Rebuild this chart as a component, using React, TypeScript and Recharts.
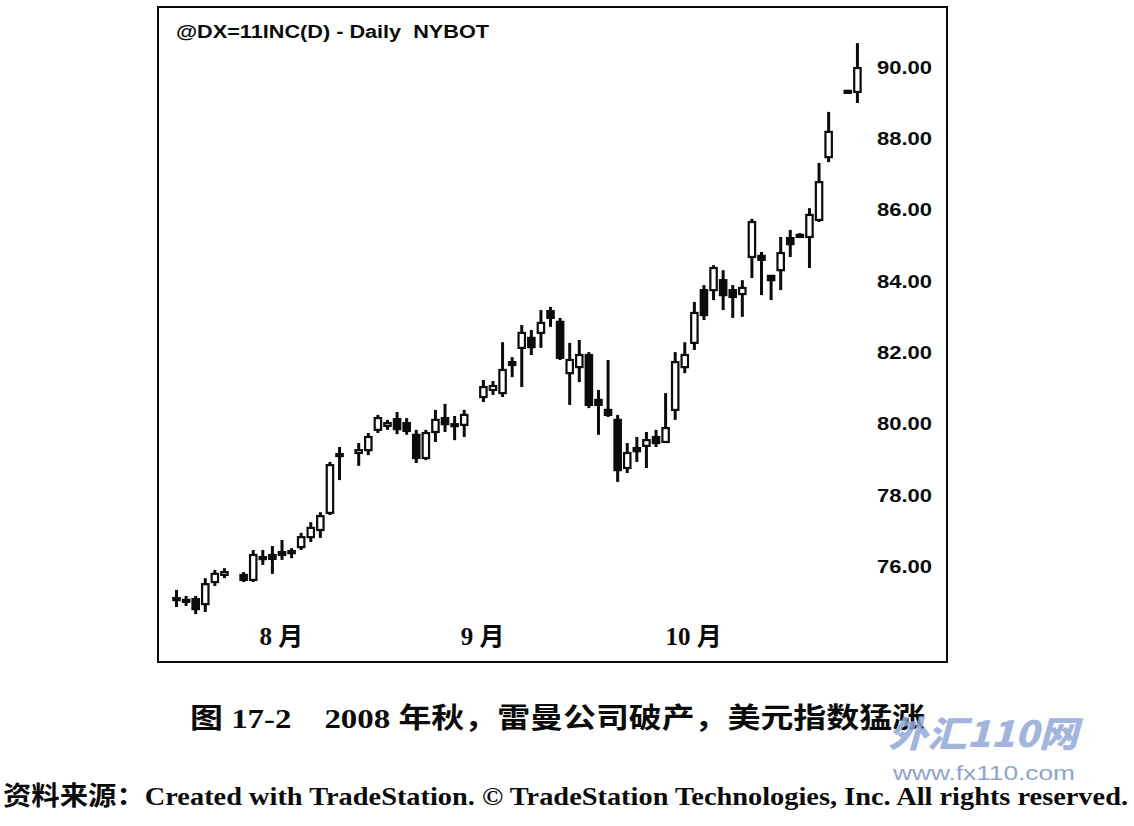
import React from "react";
import { ComposedChart, Bar, XAxis, YAxis } from "recharts";

// ─── Data (null = no bar that day) ───────────────────────────────────────────

const opens = [
  75.05, 75.05, 75.07, 74.93, 75.55, 75.75, null, 75.75, 75.61, 76.22,
  76.31, 76.39, 76.36, 76.53, 76.81, 77.01, 77.49, 79.14, null, 79.17,
  79.25, 79.82, 79.93, 80.12, 80.01, 79.68, 79.03, 79.76, 80.15, 79.98,
  79.96, null, 80.74, 80.94, 80.85, 81.72, 82.12, 82.4, 82.54, 83.15,
  82.85, 81.41, 81.58, 81.92, 80.66, 80.38, 80.1, 78.75, 79.31, 79.37,
  79.62, 79.48, 80.38, 81.58, 82.26, 83.74, 83.74, 84.02, 83.74, 83.63,
  84.67, 84.7, 84.14, 84.3, 85.2, 85.29, 85.23, 85.71, 87.47, null,
  89.3, 89.3,
];

const highs = [
  75.33, 75.16, 75.16, 75.66, 75.89, 75.94, null, 75.83, 76.45, 76.45,
  76.56, 76.73, 76.5, 76.93, 77.23, 77.51, 78.92, 79.34, null, 79.45,
  79.73, 80.24, 80.1, 80.32, 80.15, 79.82, 79.82, 80.38, 80.55, 80.21,
  80.38, null, 81.22, 81.19, 82.28, 81.86, 82.76, 82.62, 83.18, 83.27,
  82.96, 82.26, 82.34, 82.0, 80.94, 81.78, 80.24, 79.45, 79.62, 79.76,
  79.82, 80.85, 82.0, 82.28, 83.41, 83.88, 84.44, 84.3, 83.88, 84.02,
  85.74, 84.81, 84.16, 85.23, 85.43, 85.34, 86.04, 87.31, 88.74, null,
  89.36, 90.67,
];

const lows = [
  74.85, 74.88, 74.65, 74.71, 75.44, 75.66, null, 75.55, 75.55, 76.03,
  75.78, 76.17, 76.22, 76.45, 76.67, 76.79, 77.43, 78.41, null, 78.81,
  79.11, 79.73, 79.82, 79.7, 79.68, 78.89, 78.97, 79.48, 79.76, 79.53,
  79.62, null, 80.6, 80.8, 80.74, 81.3, 81.02, 81.92, 82.12, 82.71,
  81.78, 80.52, 81.16, 80.43, 79.68, 80.18, 78.36, 78.61, 78.92, 78.75,
  79.34, 79.45, 80.1, 81.41, 82.06, 82.9, 83.46, 83.18, 82.96, 82.99,
  84.08, 83.6, 83.46, 83.74, 84.67, 85.2, 84.36, 85.65, 87.33, null,
  89.27, 88.99,
];

const closes = [
  75.1, 75.02, 74.79, 75.49, 75.78, 75.83, null, 75.61, 76.31, 76.25,
  76.2, 76.31, 76.42, 76.81, 77.07, 77.4, 78.83, 79.09, null, 79.25,
  79.62, 80.15, 80.01, 79.84, 79.79, 79.03, 79.73, 80.1, 79.98, 79.93,
  80.24, null, 81.02, 81.05, 81.5, 81.64, 82.54, 82.14, 82.82, 82.96,
  81.84, 81.78, 81.92, 80.52, 80.52, 80.24, 78.69, 79.17, 79.22, 79.53,
  79.45, 79.87, 81.72, 81.92, 83.1, 83.04, 84.36, 83.6, 83.55, 83.8,
  85.65, 84.59, 84.02, 84.78, 85.03, 85.26, 85.85, 86.77, 88.18, null,
  89.33, 89.97,
];

// bar index where each month label sits
const monthTicks = [11, 32, 54];
const monthLabels = ["8 月", "9 月", "10 月"];

const priceTicks = [76, 78, 80, 82, 84, 86, 88, 90];

const rows = opens.map((o, i) => ({
  idx: i,
  open: o,
  high: highs[i],
  low: lows[i],
  close: closes[i],
}));

const INK = "#0b0b0b";

// ─── Marks ───────────────────────────────────────────────────────────────────

function Candle(props: any) {
  const { x, y, width, height, payload } = props;
  if (!payload || payload.open == null) return null;
  const { open, high, low, close } = payload;
  const span = high - low || 1;
  // value -> pixel inside the high/low range the bar was given
  const py = (v: number) => y + ((high - v) / span) * height;
  const cx = x + width / 2;
  const top = py(Math.max(open, close));
  const bot = py(Math.min(open, close));
  const up = close >= open;
  return (
    <g>
      <line x1={cx} x2={cx} y1={y} y2={y + height} stroke={INK} strokeWidth={3} />
      <rect
        x={cx - 3.2}
        y={top}
        width={6.4}
        height={Math.max(bot - top, 2)}
        fill={up ? "#fff" : INK}
        stroke={INK}
        strokeWidth={2.2}
      />
    </g>
  );
}

function PriceTick(props: any) {
  const { x, y, payload } = props;
  return (
    <text
      x={x}
      y={y}
      dy="0.36em"
      textAnchor="start"
      fontFamily="'Liberation Sans', Arial, sans-serif"
      fontWeight={700}
      fontSize={19}
      fill={INK}
      textLength={55}
      lengthAdjust="spacingAndGlyphs"
    >
      {Number(payload.value).toFixed(2)}
    </text>
  );
}

function MonthTick(props: any) {
  const { x, y, payload } = props;
  const k = monthTicks.indexOf(payload.value);
  if (k < 0) return null;
  return (
    <text
      x={x - 1}
      y={y - 16}
      dy="0.36em"
      textAnchor="middle"
      fontFamily="'Liberation Serif', 'Noto Sans CJK SC', serif"
      fontWeight={700}
      fontSize={25}
      fill={INK}
    >
      {monthLabels[k]}
    </text>
  );
}

// ─── Page ────────────────────────────────────────────────────────────────────

export default function App() {
  return (
    <div style={{ position: "absolute", left: 0, top: 0, width: 1134, height: 826, background: "#fff" }}>
      <div
        style={{
          position: "absolute",
          left: 157,
          top: 6,
          width: 791,
          height: 657,
          border: `2px solid ${INK}`,
          boxSizing: "border-box",
        }}
      />
      <div style={{ position: "absolute", left: 158, top: 7 }}>
        <ComposedChart
          width={789}
          height={655}
          data={rows}
          margin={{ top: 2, right: 0, bottom: 2, left: 14 }}
          barCategoryGap={0}
        >
          {/* mirrored so the month labels sit inside the frame without taking plot space */}
          <XAxis
            dataKey="idx"
            type="category"
            mirror
            height={30}
            axisLine={false}
            tickLine={false}
            ticks={monthTicks}
            interval={0}
            tick={<MonthTick />}
          />
          <YAxis
            orientation="right"
            width={84.5}
            domain={[73.363, 91.627]}
            allowDataOverflow
            ticks={priceTicks}
            axisLine={false}
            tickLine={false}
            tickMargin={8.5}
            tick={<PriceTick />}
          />
          <Bar
            dataKey={(d: any) => (d.open == null ? null : [d.low, d.high])}
            barSize={7}
            shape={<Candle />}
            isAnimationActive={false}
          />
        </ComposedChart>
      </div>
      <svg
        width={1134}
        height={826}
        style={{ position: "absolute", left: 0, top: 0, pointerEvents: "none" }}
      >
        <text
          x={176}
          y={38}
          fontFamily="'Liberation Sans', Arial, sans-serif"
          fontWeight={700}
          fontSize={18}
          fill={INK}
          textLength={313}
          lengthAdjust="spacingAndGlyphs"
          style={{ whiteSpace: "pre" }}
        >
          @DX=11INC(D) - Daily  NYBOT
        </text>
        <text
          x={190}
          y={728}
          fontFamily="'Liberation Serif', 'Noto Sans CJK SC', serif"
          fontWeight={700}
          fontSize={28}
          fill={INK}
          textLength={735}
          lengthAdjust="spacingAndGlyphs"
        >
          图 17-2　2008 年秋，雷曼公司破产，美元指数猛涨
        </text>
        <text
          x={888}
          y={747}
          fontFamily="'Noto Sans CJK SC', sans-serif"
          fontWeight={900}
          fontStyle="italic"
          fontSize={36}
          fill="#93a8d6"
          fillOpacity={0.85}
          textLength={190}
          lengthAdjust="spacingAndGlyphs"
        >
          外汇110网
        </text>
        <text
          x={893}
          y={780}
          fontFamily="'Liberation Sans', Arial, sans-serif"
          fontSize={21}
          fill="#8ea3cf"
          textLength={182}
          lengthAdjust="spacingAndGlyphs"
        >
          www.fx110.com
        </text>
        <text
          x={3}
          y={805}
          fontFamily="'Liberation Serif', 'Noto Sans CJK SC', serif"
          fontWeight={700}
          fontSize={26}
          fill={INK}
          textLength={1125}
          lengthAdjust="spacingAndGlyphs"
        >
          资料来源：Created with TradeStation. © TradeStation Technologies, Inc. All rights reserved.
        </text>
      </svg>
    </div>
  );
}
